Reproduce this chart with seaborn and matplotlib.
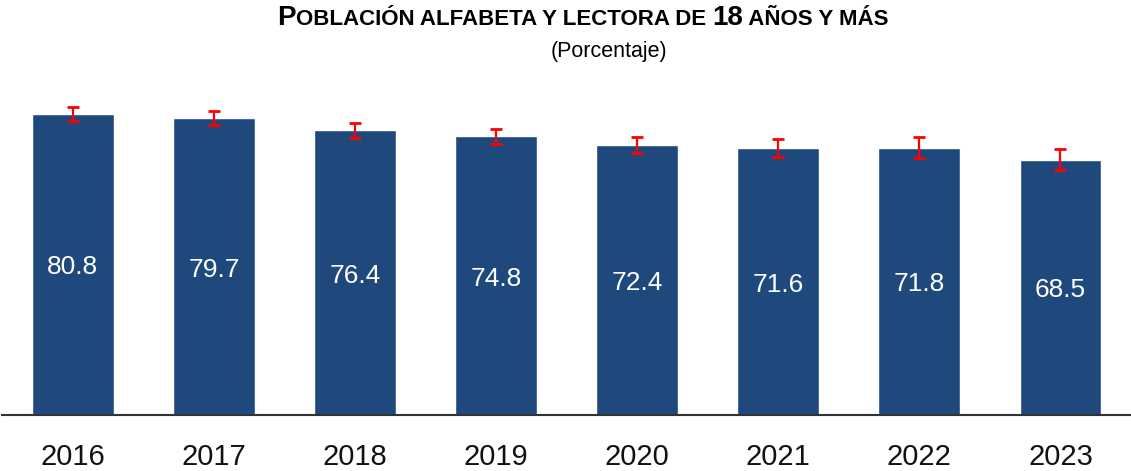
import matplotlib
matplotlib.use("Agg")
import matplotlib.pyplot as plt
import seaborn as sns
from matplotlib.offsetbox import TextArea, HPacker, AnchoredOffsetbox

# Data
years = ["2016", "2017", "2018", "2019", "2020", "2021", "2022", "2023"]
values = [80.8, 79.7, 76.4, 74.8, 72.4, 71.6, 71.8, 68.5]
errors = [1.9, 1.9, 2.0, 2.0, 2.1, 2.4, 2.9, 2.8]

BAR_COLOR = "#1F497D"
NARROW = ["Liberation Sans Narrow", "Liberation Sans", "DejaVu Sans"]
REGULAR = ["Liberation Sans", "DejaVu Sans"]

sns.set_style("white")
plt.rcParams["font.family"] = REGULAR

fig = plt.figure(figsize=(11.31, 4.71), dpi=100)
ax = fig.add_axes([0.002, 0.1189, 0.998, 0.690])

sns.barplot(x=years, y=values, color=BAR_COLOR, saturation=1, width=0.58, ax=ax)
ax.errorbar(x=range(len(years)), y=values, yerr=errors, fmt="none",
            ecolor="#FF0000", elinewidth=1.6, capsize=4.5, capthick=2)

# value labels inside bars
for i, v in enumerate(values):
    ax.text(i, v / 2 - 0.8, f"{v:.1f}", ha="center", va="center",
            color="white", fontsize=19, family=REGULAR)

ax.set_xlim(-0.5, len(years) - 0.5)
ax.set_ylim(0, 87.25)
ax.set_yticks([])
ax.set_xlabel("")
ax.set_ylabel("")
for s in ["top", "right", "left"]:
    ax.spines[s].set_visible(False)
ax.spines["bottom"].set_color("#333333")
ax.spines["bottom"].set_linewidth(1.5)
ax.tick_params(axis="x", length=0, pad=20)
for lbl in ax.get_xticklabels():
    lbl.set_fontsize(21)
    lbl.set_family(NARROW)
    lbl.set_color("#111111")

# title with small caps look
big = dict(fontsize=20, fontweight="bold", family=NARROW, color="black")
small = dict(fontsize=16, fontweight="bold", family=NARROW, color="black")
parts = [
    TextArea("P", textprops=big),
    TextArea("OBLACIÓN ALFABETA Y LECTORA DE ", textprops=small),
    TextArea("18", textprops=big),
    TextArea(" AÑOS Y MÁS", textprops=small),
]
box = HPacker(children=parts, align="baseline", pad=0, sep=0)
anchored = AnchoredOffsetbox(loc="center", child=box, frameon=False, pad=0,
                             borderpad=0, bbox_to_anchor=(583 / 1131, 1 - 18 / 471),
                             bbox_transform=fig.transFigure)
fig.add_artist(anchored)

fig.text(609 / 1131, 1 - 51 / 471, "(Porcentaje)", ha="center", va="center",
         fontsize=15.5, family=REGULAR, color="black")

fig.savefig("out.png", dpi=100)
